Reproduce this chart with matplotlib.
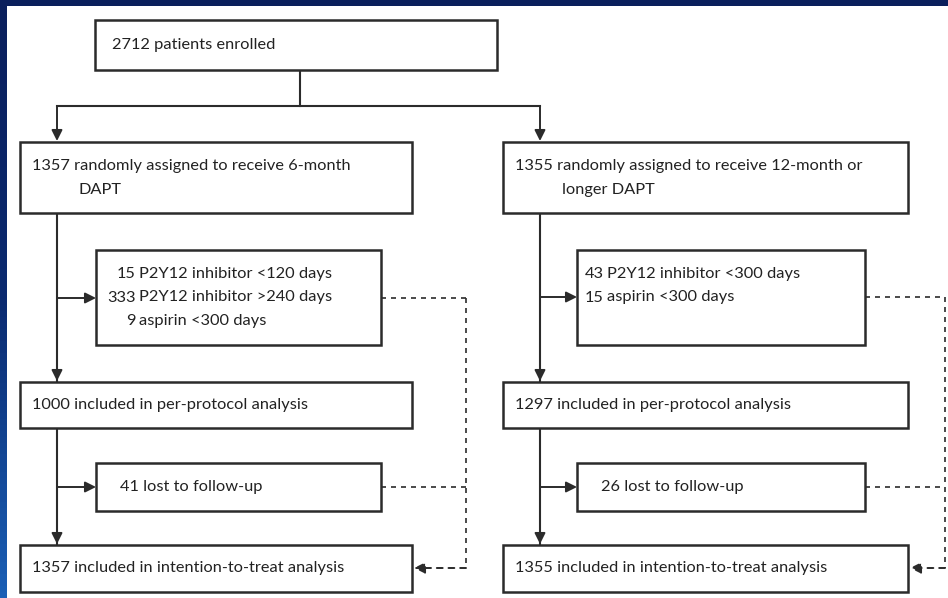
import matplotlib.pyplot as plt
from matplotlib.patches import Rectangle
import numpy as np

# flow chart contents
enrolled = "2712 patients enrolled"
arm_labels = [["1357 randomly assigned to receive 6-month", "DAPT"],
              ["1355 randomly assigned to receive 12-month or", "longer DAPT"]]
deviation_counts = [["15", "333", "9"], ["43", "15"]]
deviation_labels = [["P2Y12 inhibitor <120 days", "P2Y12 inhibitor >240 days", "aspirin <300 days"],
                    ["P2Y12 inhibitor <300 days", "aspirin <300 days"]]
per_protocol = ["1000 included in per-protocol analysis", "1297 included in per-protocol analysis"]
lost = ["41 lost to follow-up", "26 lost to follow-up"]
itt = ["1357 included in intention-to-treat analysis", "1355 included in intention-to-treat analysis"]

LINE = "#2b2b2b"
FONT = ["Lato", "DejaVu Sans"]
FS = 11.8

fig = plt.figure(figsize=(9.48, 5.98), dpi=100, facecolor="#0a1f5c")
ax = fig.add_axes([0, 0, 1, 1])
ax.set_xlim(0, 948)
ax.set_ylim(598, 0)
ax.axis("off")

# left blue strip gradient + white panel
grad = np.linspace(0, 1, 100).reshape(-1, 1)
ax.imshow(grad, extent=(0, 7, 598, 0), cmap=plt.cm.colors.LinearSegmentedColormap.from_list(
    "g", ["#0a1f5c", "#0a2a70", "#1b5fb5"]), aspect="auto", zorder=0)
ax.add_patch(Rectangle((7, 6), 960, 600, facecolor="white", edgecolor="none", zorder=0.5))


def box(x0, y0, x1, y1):
    ax.add_patch(Rectangle((x0, y0), x1 - x0, y1 - y0, facecolor="white",
                           edgecolor=LINE, lw=1.8, zorder=2))


def txt(x, y, s, ha="left"):
    ax.text(x, y, s, fontsize=FS, family=FONT, color="#222222", ha=ha, va="center", zorder=3)


def arrow(x0, y0, x1, y1, dashed=False):
    ax.annotate("", xy=(x1, y1), xytext=(x0, y0),
                arrowprops=dict(arrowstyle="-|>", color=LINE, lw=1.4, mutation_scale=16,
                                linestyle=(0, (3, 3)) if dashed else "-", shrinkA=0, shrinkB=0),
                zorder=3)


def line(xs, ys, dashed=False):
    ax.plot(xs, ys, color=LINE, lw=1.2 if dashed else 1.5,
            ls=(0, (3, 3)) if dashed else "-", zorder=1)


# top box and split
box(95, 20, 497, 70)
txt(112, 45, enrolled)
line([300, 300], [70, 106])
line([57, 540], [106, 106])
arrow(57, 106, 57, 141)
arrow(540, 106, 540, 141)

cols = [dict(x=20, xr=412, spine=57, sx=96, sxr=381, dash=466, dev_mid=298, num_x=136),
        dict(x=503, xr=908, spine=540, sx=577, sxr=865, dash=945, dev_mid=297, num_x=604)]

for i, c in enumerate(cols):
    # randomised arm
    box(c["x"], 142, c["xr"], 213)
    txt(c["x"] + 12, 166, arm_labels[i][0])
    txt(c["x"] + 59, 190, arm_labels[i][1])

    # spine with arrows
    line([c["spine"], c["spine"]], [213, 382])
    arrow(c["spine"], 360, c["spine"], 381)
    line([c["spine"], c["spine"]], [428, 545])
    arrow(c["spine"], 525, c["spine"], 544)

    # deviations box
    box(c["sx"], 250, c["sxr"], 345)
    arrow(c["spine"], c["dev_mid"], c["sx"], c["dev_mid"])
    for j, (n, lab) in enumerate(zip(deviation_counts[i], deviation_labels[i])):
        yy = 274 + 23.5 * j
        txt(c["num_x"], yy, n, ha="right")
        txt(c["num_x"] + 3, yy, lab)

    # per protocol
    box(c["x"], 382, c["xr"], 428)
    txt(c["x"] + 12, 405, per_protocol[i])

    # lost to follow-up
    box(c["sx"], 463, c["sxr"], 511)
    arrow(c["spine"], 487, c["sx"], 487)
    txt(c["sx"] + 24, 487, lost[i])

    # intention to treat
    box(c["x"], 545, c["xr"], 592)
    txt(c["x"] + 12, 568, itt[i])

    # dashed return path
    line([c["sxr"], c["dash"]], [c["dev_mid"], c["dev_mid"]], dashed=True)
    line([c["sxr"], c["dash"]], [487, 487], dashed=True)
    line([c["dash"], c["dash"]], [c["dev_mid"], 568], dashed=True)
    arrow(c["dash"], 568, c["xr"] + 2, 568, dashed=True)

fig.savefig("out.png", dpi=100, facecolor=fig.get_facecolor())
